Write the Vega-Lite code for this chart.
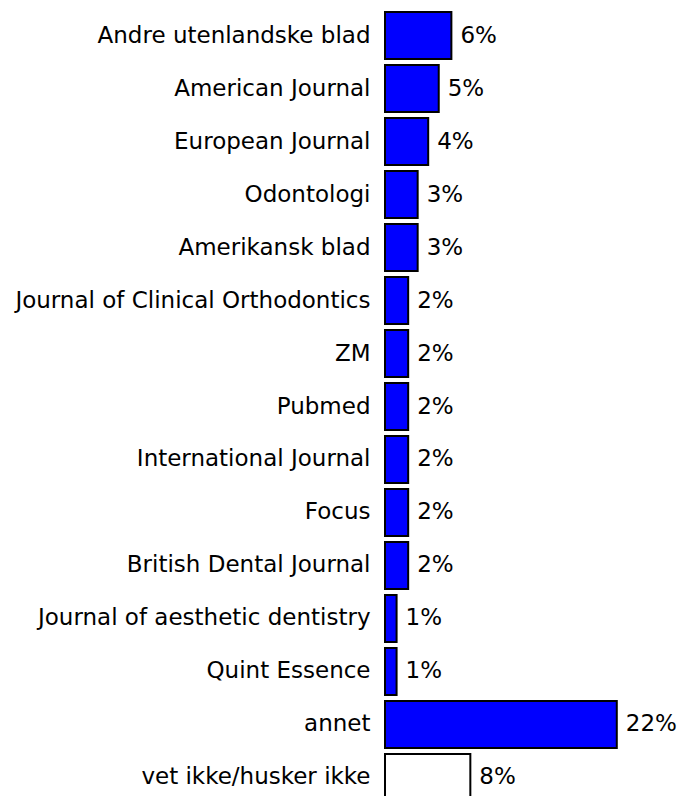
{
  "$schema": "https://vega.github.io/schema/vega-lite/v6.json",
  "autosize": {"type": "none"},
  "width": 295,
  "height": 795,
  "padding": {"left": 385, "top": 9, "right": 1, "bottom": 0},
  "background": "#ffffff",
  "config": {"view": {"stroke": null}},
  "data": {
    "values": [
      {"name": "Andre utenlandske blad", "value": 6.3, "label": "6%", "kind": "a"},
      {"name": "American Journal", "value": 5.1, "label": "5%", "kind": "a"},
      {"name": "European Journal", "value": 4.1, "label": "4%", "kind": "a"},
      {"name": "Odontologi", "value": 3.1, "label": "3%", "kind": "a"},
      {"name": "Amerikansk blad", "value": 3.1, "label": "3%", "kind": "a"},
      {"name": "Journal of Clinical Orthodontics", "value": 2.2, "label": "2%", "kind": "a"},
      {"name": "ZM", "value": 2.2, "label": "2%", "kind": "a"},
      {"name": "Pubmed", "value": 2.2, "label": "2%", "kind": "a"},
      {"name": "International Journal", "value": 2.2, "label": "2%", "kind": "a"},
      {"name": "Focus", "value": 2.2, "label": "2%", "kind": "a"},
      {"name": "British Dental Journal", "value": 2.2, "label": "2%", "kind": "a"},
      {"name": "Journal of aesthetic dentistry", "value": 1.1, "label": "1%", "kind": "a"},
      {"name": "Quint Essence", "value": 1.1, "label": "1%", "kind": "a"},
      {"name": "annet", "value": 22, "label": "22%", "kind": "a"},
      {"name": "vet ikke/husker ikke", "value": 8.1, "label": "8%", "kind": "b"}
    ]
  },
  "encoding": {
    "y": {
      "field": "name",
      "type": "nominal",
      "sort": null,
      "scale": {"paddingInner": 0.113, "paddingOuter": 0.0566},
      "axis": {
        "title": null,
        "domain": false,
        "ticks": false,
        "labelPadding": 15,
        "labelFont": "DejaVu Sans",
        "labelFontSize": 23,
        "labelColor": "#000000",
        "labelLimit": 400
      }
    },
    "x": {
      "field": "value",
      "type": "quantitative",
      "scale": {"domain": [0, 28], "nice": false, "zero": true},
      "axis": null
    }
  },
  "layer": [
    {
      "mark": {"type": "bar", "stroke": "#000000", "strokeWidth": 2, "cornerRadius": 0},
      "encoding": {
        "color": {
          "field": "kind",
          "type": "nominal",
          "scale": {"domain": ["a", "b"], "range": ["#0000ff", "#ffffff"]},
          "legend": null
        }
      }
    },
    {
      "mark": {"type": "text", "align": "left", "baseline": "middle", "dx": 9, "font": "DejaVu Sans", "fontSize": 23, "color": "#000000"},
      "encoding": {"text": {"field": "label"}}
    }
  ]
}
